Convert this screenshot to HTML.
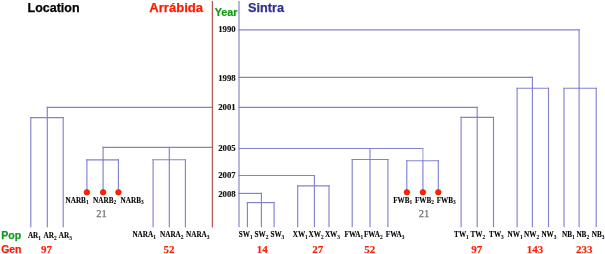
<!DOCTYPE html>
<html><head><meta charset="utf-8"><style>
html,body{margin:0;padding:0;background:#fff;}
svg{display:block;will-change:transform;}
</style></head><body>
<svg width="605" height="254" viewBox="0 0 605 254">
<rect width="605" height="254" fill="#fff"/>
<line x1="239" y1="1.5" x2="239" y2="226.6" stroke="#8282d0" stroke-width="1.15" stroke-linecap="square"/>
<line x1="239" y1="29.9" x2="579.1" y2="29.9" stroke="#8282d0" stroke-width="1.15" stroke-linecap="square"/>
<line x1="579.1" y1="29.9" x2="579.1" y2="88.2" stroke="#8282d0" stroke-width="1.15" stroke-linecap="square"/>
<line x1="564" y1="88.2" x2="596.2" y2="88.2" stroke="#8282d0" stroke-width="1.15" stroke-linecap="square"/>
<line x1="564" y1="88.2" x2="564" y2="226.6" stroke="#8282d0" stroke-width="1.15" stroke-linecap="square"/>
<line x1="579.1" y1="88.2" x2="579.1" y2="226.6" stroke="#8282d0" stroke-width="1.15" stroke-linecap="square"/>
<line x1="596.2" y1="88.2" x2="596.2" y2="226.6" stroke="#8282d0" stroke-width="1.15" stroke-linecap="square"/>
<line x1="239" y1="77.4" x2="532.4" y2="77.4" stroke="#8282d0" stroke-width="1.15" stroke-linecap="square"/>
<line x1="532.4" y1="77.4" x2="532.4" y2="88.2" stroke="#8282d0" stroke-width="1.15" stroke-linecap="square"/>
<line x1="517.1" y1="88.2" x2="548.5" y2="88.2" stroke="#8282d0" stroke-width="1.15" stroke-linecap="square"/>
<line x1="517.1" y1="88.2" x2="517.1" y2="226.6" stroke="#8282d0" stroke-width="1.15" stroke-linecap="square"/>
<line x1="532.4" y1="88.2" x2="532.4" y2="226.6" stroke="#8282d0" stroke-width="1.15" stroke-linecap="square"/>
<line x1="548.5" y1="88.2" x2="548.5" y2="226.6" stroke="#8282d0" stroke-width="1.15" stroke-linecap="square"/>
<line x1="47.3" y1="107.4" x2="212" y2="107.4" stroke="#8282d0" stroke-width="1.15" stroke-linecap="square"/>
<line x1="239" y1="107.4" x2="477.2" y2="107.4" stroke="#8282d0" stroke-width="1.15" stroke-linecap="square"/>
<line x1="477.2" y1="107.4" x2="477.2" y2="117.4" stroke="#8282d0" stroke-width="1.15" stroke-linecap="square"/>
<line x1="47.3" y1="107.4" x2="47.3" y2="117.6" stroke="#8282d0" stroke-width="1.15" stroke-linecap="square"/>
<line x1="461.1" y1="117.4" x2="493.5" y2="117.4" stroke="#8282d0" stroke-width="1.15" stroke-linecap="square"/>
<line x1="461.1" y1="117.4" x2="461.1" y2="226.6" stroke="#8282d0" stroke-width="1.15" stroke-linecap="square"/>
<line x1="477.2" y1="117.4" x2="477.2" y2="226.6" stroke="#8282d0" stroke-width="1.15" stroke-linecap="square"/>
<line x1="493.5" y1="117.4" x2="493.5" y2="226.6" stroke="#8282d0" stroke-width="1.15" stroke-linecap="square"/>
<line x1="30.8" y1="117.6" x2="63.2" y2="117.6" stroke="#8282d0" stroke-width="1.15" stroke-linecap="square"/>
<line x1="30.8" y1="117.6" x2="30.8" y2="226.6" stroke="#8282d0" stroke-width="1.15" stroke-linecap="square"/>
<line x1="47.3" y1="117.6" x2="47.3" y2="226.6" stroke="#8282d0" stroke-width="1.15" stroke-linecap="square"/>
<line x1="63.2" y1="117.6" x2="63.2" y2="226.6" stroke="#8282d0" stroke-width="1.15" stroke-linecap="square"/>
<line x1="103.1" y1="147.3" x2="212" y2="147.3" stroke="#8282d0" stroke-width="1.15" stroke-linecap="square"/>
<line x1="239" y1="148.5" x2="422.9" y2="148.5" stroke="#8282d0" stroke-width="1.15" stroke-linecap="square"/>
<line x1="103.1" y1="147.3" x2="103.1" y2="159.9" stroke="#8282d0" stroke-width="1.15" stroke-linecap="square"/>
<line x1="169.3" y1="147.3" x2="169.3" y2="159.7" stroke="#8282d0" stroke-width="1.15" stroke-linecap="square"/>
<line x1="370" y1="148.5" x2="370" y2="159.5" stroke="#8282d0" stroke-width="1.15" stroke-linecap="square"/>
<line x1="422.9" y1="148.5" x2="422.9" y2="160.7" stroke="#a4a4e2" stroke-width="1.15" stroke-linecap="square"/>
<line x1="153.1" y1="159.7" x2="185.4" y2="159.7" stroke="#8282d0" stroke-width="1.15" stroke-linecap="square"/>
<line x1="153.1" y1="159.7" x2="153.1" y2="226.6" stroke="#8282d0" stroke-width="1.15" stroke-linecap="square"/>
<line x1="169.3" y1="159.7" x2="169.3" y2="226.6" stroke="#8282d0" stroke-width="1.15" stroke-linecap="square"/>
<line x1="185.4" y1="159.7" x2="185.4" y2="226.6" stroke="#8282d0" stroke-width="1.15" stroke-linecap="square"/>
<line x1="352.2" y1="159.5" x2="387.9" y2="159.5" stroke="#8282d0" stroke-width="1.15" stroke-linecap="square"/>
<line x1="352.2" y1="159.5" x2="352.2" y2="226.6" stroke="#8282d0" stroke-width="1.15" stroke-linecap="square"/>
<line x1="370" y1="159.5" x2="370" y2="226.6" stroke="#8282d0" stroke-width="1.15" stroke-linecap="square"/>
<line x1="387.9" y1="159.5" x2="387.9" y2="226.6" stroke="#8282d0" stroke-width="1.15" stroke-linecap="square"/>
<line x1="86.9" y1="159.9" x2="118.4" y2="159.9" stroke="#8282d0" stroke-width="1.15" stroke-linecap="square"/>
<line x1="86.9" y1="159.9" x2="86.9" y2="192.3" stroke="#8282d0" stroke-width="1.15" stroke-linecap="square"/>
<line x1="103.1" y1="159.9" x2="103.1" y2="192.3" stroke="#8282d0" stroke-width="1.15" stroke-linecap="square"/>
<line x1="118.4" y1="159.9" x2="118.4" y2="192.3" stroke="#8282d0" stroke-width="1.15" stroke-linecap="square"/>
<line x1="406.8" y1="160.7" x2="438.3" y2="160.7" stroke="#8282d0" stroke-width="1.15" stroke-linecap="square"/>
<line x1="406.8" y1="160.7" x2="406.8" y2="192.3" stroke="#8282d0" stroke-width="1.15" stroke-linecap="square"/>
<line x1="422.9" y1="160.7" x2="422.9" y2="192.3" stroke="#8282d0" stroke-width="1.15" stroke-linecap="square"/>
<line x1="438.3" y1="160.7" x2="438.3" y2="192.3" stroke="#8282d0" stroke-width="1.15" stroke-linecap="square"/>
<line x1="239" y1="175.5" x2="314.4" y2="175.5" stroke="#8282d0" stroke-width="1.15" stroke-linecap="square"/>
<line x1="314.4" y1="175.5" x2="314.4" y2="185.9" stroke="#8282d0" stroke-width="1.15" stroke-linecap="square"/>
<line x1="297.7" y1="185.9" x2="329" y2="185.9" stroke="#8282d0" stroke-width="1.15" stroke-linecap="square"/>
<line x1="297.7" y1="185.9" x2="297.7" y2="226.6" stroke="#8282d0" stroke-width="1.15" stroke-linecap="square"/>
<line x1="314.4" y1="185.9" x2="314.4" y2="226.6" stroke="#8282d0" stroke-width="1.15" stroke-linecap="square"/>
<line x1="329" y1="185.9" x2="329" y2="226.6" stroke="#8282d0" stroke-width="1.15" stroke-linecap="square"/>
<line x1="239" y1="193.4" x2="261.4" y2="193.4" stroke="#8282d0" stroke-width="1.15" stroke-linecap="square"/>
<line x1="261.4" y1="193.4" x2="261.4" y2="202.6" stroke="#8282d0" stroke-width="1.15" stroke-linecap="square"/>
<line x1="247.4" y1="202.6" x2="274.1" y2="202.6" stroke="#8282d0" stroke-width="1.15" stroke-linecap="square"/>
<line x1="247.4" y1="202.6" x2="247.4" y2="226.6" stroke="#8282d0" stroke-width="1.15" stroke-linecap="square"/>
<line x1="261.4" y1="202.6" x2="261.4" y2="226.6" stroke="#8282d0" stroke-width="1.15" stroke-linecap="square"/>
<line x1="274.1" y1="202.6" x2="274.1" y2="226.6" stroke="#8282d0" stroke-width="1.15" stroke-linecap="square"/>
<line x1="212.4" y1="1.5" x2="212.4" y2="226.8" stroke="#b85a5a" stroke-width="1.3" stroke-linecap="square"/>
<circle cx="86.9" cy="192.3" r="2.8" fill="#ff2400" stroke="#d41400" stroke-width="0.6"/>
<circle cx="103.1" cy="192.3" r="2.8" fill="#ff2400" stroke="#d41400" stroke-width="0.6"/>
<circle cx="118.4" cy="192.3" r="2.8" fill="#ff2400" stroke="#d41400" stroke-width="0.6"/>
<circle cx="406.9" cy="192.3" r="2.8" fill="#ff2400" stroke="#d41400" stroke-width="0.6"/>
<circle cx="422.9" cy="192.3" r="2.8" fill="#ff2400" stroke="#d41400" stroke-width="0.6"/>
<circle cx="438.3" cy="192.3" r="2.8" fill="#ff2400" stroke="#d41400" stroke-width="0.6"/>
<text x="27.5" y="12.1" font-family="Liberation Sans" font-size="13.5" font-weight="bold" fill="#000" text-anchor="start" textLength="52.1" lengthAdjust="spacingAndGlyphs" stroke="#000" stroke-width="0.25">Location</text>
<text x="149.3" y="11.7" font-family="Liberation Sans" font-size="13.5" font-weight="bold" fill="#ff1a00" text-anchor="start" textLength="53.8" lengthAdjust="spacingAndGlyphs" stroke="#ff1a00" stroke-width="0.25">Arr&#225;bida</text>
<text x="214.7" y="16.4" font-family="Liberation Sans" font-size="11.2" font-weight="bold" fill="#119911" text-anchor="start" textLength="22.8" lengthAdjust="spacingAndGlyphs" stroke="#119911" stroke-width="0.2">Year</text>
<text x="248.1" y="11.9" font-family="Liberation Sans" font-size="13.5" font-weight="bold" fill="#2e3192" text-anchor="start" textLength="36" lengthAdjust="spacingAndGlyphs" stroke="#2e3192" stroke-width="0.25">Sintra</text>
<text x="1.2" y="238.7" font-family="Liberation Sans" font-size="10.5" font-weight="bold" fill="#129a22" text-anchor="start" textLength="20" lengthAdjust="spacingAndGlyphs" stroke="#129a22" stroke-width="0.25">Pop</text>
<text x="1.2" y="252.6" font-family="Liberation Sans" font-size="10.5" font-weight="bold" fill="#ff1a00" text-anchor="start" textLength="20.3" lengthAdjust="spacingAndGlyphs" stroke="#ff1a00" stroke-width="0.25">Gen</text>
<text x="226.9" y="32.2" font-family="Liberation Serif" font-size="8.7" font-weight="bold" fill="#111" text-anchor="middle" stroke="#111" stroke-width="0.15">1990</text>
<text x="226.9" y="80.5" font-family="Liberation Serif" font-size="8.7" font-weight="bold" fill="#111" text-anchor="middle" stroke="#111" stroke-width="0.15">1998</text>
<text x="226.9" y="109.9" font-family="Liberation Serif" font-size="8.7" font-weight="bold" fill="#111" text-anchor="middle" stroke="#111" stroke-width="0.15">2001</text>
<text x="226.9" y="151.1" font-family="Liberation Serif" font-size="8.7" font-weight="bold" fill="#111" text-anchor="middle" stroke="#111" stroke-width="0.15">2005</text>
<text x="226.9" y="177.7" font-family="Liberation Serif" font-size="8.7" font-weight="bold" fill="#111" text-anchor="middle" stroke="#111" stroke-width="0.15">2007</text>
<text x="226.9" y="196.9" font-family="Liberation Serif" font-size="8.7" font-weight="bold" fill="#111" text-anchor="middle" stroke="#111" stroke-width="0.15">2008</text>
<text x="27.9" y="237.70000000000002" font-family="Liberation Serif" font-size="7.2" font-weight="bold" fill="#000" stroke="#000" stroke-width="0.1">AR<tspan font-size="5.4" dy="1.8" stroke-width="0.05">1</tspan></text>
<text x="43.5" y="237.70000000000002" font-family="Liberation Serif" font-size="7.2" font-weight="bold" fill="#000" stroke="#000" stroke-width="0.1">AR<tspan font-size="5.4" dy="1.8" stroke-width="0.05">2</tspan></text>
<text x="58.8" y="237.70000000000002" font-family="Liberation Serif" font-size="7.2" font-weight="bold" fill="#000" stroke="#000" stroke-width="0.1">AR<tspan font-size="5.4" dy="1.8" stroke-width="0.05">3</tspan></text>
<text x="132.4" y="237.20000000000002" font-family="Liberation Serif" font-size="7.2" font-weight="bold" fill="#000" stroke="#000" stroke-width="0.1">NARA<tspan font-size="5.4" dy="1.8" stroke-width="0.05">1</tspan></text>
<text x="160" y="237.20000000000002" font-family="Liberation Serif" font-size="7.2" font-weight="bold" fill="#000" stroke="#000" stroke-width="0.1">NARA<tspan font-size="5.4" dy="1.8" stroke-width="0.05">2</tspan></text>
<text x="186" y="237.20000000000002" font-family="Liberation Serif" font-size="7.2" font-weight="bold" fill="#000" stroke="#000" stroke-width="0.1">NARA<tspan font-size="5.4" dy="1.8" stroke-width="0.05">3</tspan></text>
<text x="238.7" y="237.20000000000002" font-family="Liberation Serif" font-size="7.2" font-weight="bold" fill="#000" stroke="#000" stroke-width="0.1">SW<tspan font-size="5.4" dy="1.8" stroke-width="0.05">1</tspan></text>
<text x="254.5" y="237.20000000000002" font-family="Liberation Serif" font-size="7.2" font-weight="bold" fill="#000" stroke="#000" stroke-width="0.1">SW<tspan font-size="5.4" dy="1.8" stroke-width="0.05">2</tspan></text>
<text x="270.4" y="237.20000000000002" font-family="Liberation Serif" font-size="7.2" font-weight="bold" fill="#000" stroke="#000" stroke-width="0.1">SW<tspan font-size="5.4" dy="1.8" stroke-width="0.05">3</tspan></text>
<text x="292.7" y="237.20000000000002" font-family="Liberation Serif" font-size="7.2" font-weight="bold" fill="#000" stroke="#000" stroke-width="0.1">XW<tspan font-size="5.4" dy="1.8" stroke-width="0.05">1</tspan></text>
<text x="308.5" y="237.20000000000002" font-family="Liberation Serif" font-size="7.2" font-weight="bold" fill="#000" stroke="#000" stroke-width="0.1">XW<tspan font-size="5.4" dy="1.8" stroke-width="0.05">2</tspan></text>
<text x="324.9" y="237.20000000000002" font-family="Liberation Serif" font-size="7.2" font-weight="bold" fill="#000" stroke="#000" stroke-width="0.1">XW<tspan font-size="5.4" dy="1.8" stroke-width="0.05">3</tspan></text>
<text x="344.6" y="237.20000000000002" font-family="Liberation Serif" font-size="7.2" font-weight="bold" fill="#000" stroke="#000" stroke-width="0.1">FWA<tspan font-size="5.4" dy="1.8" stroke-width="0.05">1</tspan></text>
<text x="363.9" y="237.20000000000002" font-family="Liberation Serif" font-size="7.2" font-weight="bold" fill="#000" stroke="#000" stroke-width="0.1">FWA<tspan font-size="5.4" dy="1.8" stroke-width="0.05">2</tspan></text>
<text x="385.8" y="237.20000000000002" font-family="Liberation Serif" font-size="7.2" font-weight="bold" fill="#000" stroke="#000" stroke-width="0.1">FWA<tspan font-size="5.4" dy="1.8" stroke-width="0.05">3</tspan></text>
<text x="454.1" y="237.20000000000002" font-family="Liberation Serif" font-size="7.2" font-weight="bold" fill="#000" stroke="#000" stroke-width="0.1">TW<tspan font-size="5.4" dy="1.8" stroke-width="0.05">1</tspan></text>
<text x="470.4" y="237.20000000000002" font-family="Liberation Serif" font-size="7.2" font-weight="bold" fill="#000" stroke="#000" stroke-width="0.1">TW<tspan font-size="5.4" dy="1.8" stroke-width="0.05">2</tspan></text>
<text x="489.1" y="237.20000000000002" font-family="Liberation Serif" font-size="7.2" font-weight="bold" fill="#000" stroke="#000" stroke-width="0.1">TW<tspan font-size="5.4" dy="1.8" stroke-width="0.05">3</tspan></text>
<text x="507.5" y="237.20000000000002" font-family="Liberation Serif" font-size="7.2" font-weight="bold" fill="#000" stroke="#000" stroke-width="0.1">NW<tspan font-size="5.4" dy="1.8" stroke-width="0.05">1</tspan></text>
<text x="524" y="237.20000000000002" font-family="Liberation Serif" font-size="7.2" font-weight="bold" fill="#000" stroke="#000" stroke-width="0.1">NW<tspan font-size="5.4" dy="1.8" stroke-width="0.05">2</tspan></text>
<text x="541.4" y="237.20000000000002" font-family="Liberation Serif" font-size="7.2" font-weight="bold" fill="#000" stroke="#000" stroke-width="0.1">NW<tspan font-size="5.4" dy="1.8" stroke-width="0.05">3</tspan></text>
<text x="562" y="237.20000000000002" font-family="Liberation Serif" font-size="7.2" font-weight="bold" fill="#000" stroke="#000" stroke-width="0.1">NB<tspan font-size="5.4" dy="1.8" stroke-width="0.05">1</tspan></text>
<text x="576.4" y="237.20000000000002" font-family="Liberation Serif" font-size="7.2" font-weight="bold" fill="#000" stroke="#000" stroke-width="0.1">NB<tspan font-size="5.4" dy="1.8" stroke-width="0.05">2</tspan></text>
<text x="591.8" y="237.20000000000002" font-family="Liberation Serif" font-size="7.2" font-weight="bold" fill="#000" stroke="#000" stroke-width="0.1">NB<tspan font-size="5.4" dy="1.8" stroke-width="0.05">3</tspan></text>
<text x="65.5" y="202.5" font-family="Liberation Serif" font-size="7.2" font-weight="bold" fill="#000" stroke="#000" stroke-width="0.1">NARB<tspan font-size="5.4" dy="1.8" stroke-width="0.05">1</tspan></text>
<text x="93.1" y="202.5" font-family="Liberation Serif" font-size="7.2" font-weight="bold" fill="#000" stroke="#000" stroke-width="0.1">NARB<tspan font-size="5.4" dy="1.8" stroke-width="0.05">2</tspan></text>
<text x="120.6" y="202.5" font-family="Liberation Serif" font-size="7.2" font-weight="bold" fill="#000" stroke="#000" stroke-width="0.1">NARB<tspan font-size="5.4" dy="1.8" stroke-width="0.05">3</tspan></text>
<text x="393.2" y="202.5" font-family="Liberation Serif" font-size="7.2" font-weight="bold" fill="#000" stroke="#000" stroke-width="0.1">FWB<tspan font-size="5.4" dy="1.8" stroke-width="0.05">1</tspan></text>
<text x="414.9" y="202.5" font-family="Liberation Serif" font-size="7.2" font-weight="bold" fill="#000" stroke="#000" stroke-width="0.1">FWB<tspan font-size="5.4" dy="1.8" stroke-width="0.05">2</tspan></text>
<text x="436.7" y="202.5" font-family="Liberation Serif" font-size="7.2" font-weight="bold" fill="#000" stroke="#000" stroke-width="0.1">FWB<tspan font-size="5.4" dy="1.8" stroke-width="0.05">3</tspan></text>
<text x="46.6" y="253.4" font-family="Liberation Serif" font-size="11" font-weight="bold" fill="#ff1a00" text-anchor="middle" stroke="#ff1a00" stroke-width="0.15">97</text>
<text x="168.9" y="253.4" font-family="Liberation Serif" font-size="11" font-weight="bold" fill="#ff1a00" text-anchor="middle" stroke="#ff1a00" stroke-width="0.15">52</text>
<text x="262.3" y="253.4" font-family="Liberation Serif" font-size="11" font-weight="bold" fill="#ff1a00" text-anchor="middle" stroke="#ff1a00" stroke-width="0.15">14</text>
<text x="317.7" y="253.4" font-family="Liberation Serif" font-size="11" font-weight="bold" fill="#ff1a00" text-anchor="middle" stroke="#ff1a00" stroke-width="0.15">27</text>
<text x="369.8" y="253.4" font-family="Liberation Serif" font-size="11" font-weight="bold" fill="#ff1a00" text-anchor="middle" stroke="#ff1a00" stroke-width="0.15">52</text>
<text x="476.8" y="253.4" font-family="Liberation Serif" font-size="11" font-weight="bold" fill="#ff1a00" text-anchor="middle" stroke="#ff1a00" stroke-width="0.15">97</text>
<text x="535.1" y="253.4" font-family="Liberation Serif" font-size="11" font-weight="bold" fill="#ff1a00" text-anchor="middle" stroke="#ff1a00" stroke-width="0.15">143</text>
<text x="584.3" y="253.4" font-family="Liberation Serif" font-size="11" font-weight="bold" fill="#ff1a00" text-anchor="middle" stroke="#ff1a00" stroke-width="0.15">233</text>
<text x="101.5" y="217.4" font-family="Liberation Serif" font-size="10.5" font-weight="normal" fill="#747474" text-anchor="middle" stroke="#747474" stroke-width="0.25">21</text>
<text x="424" y="217.4" font-family="Liberation Serif" font-size="10.5" font-weight="normal" fill="#747474" text-anchor="middle" stroke="#747474" stroke-width="0.25">21</text>
</svg>
</body></html>
